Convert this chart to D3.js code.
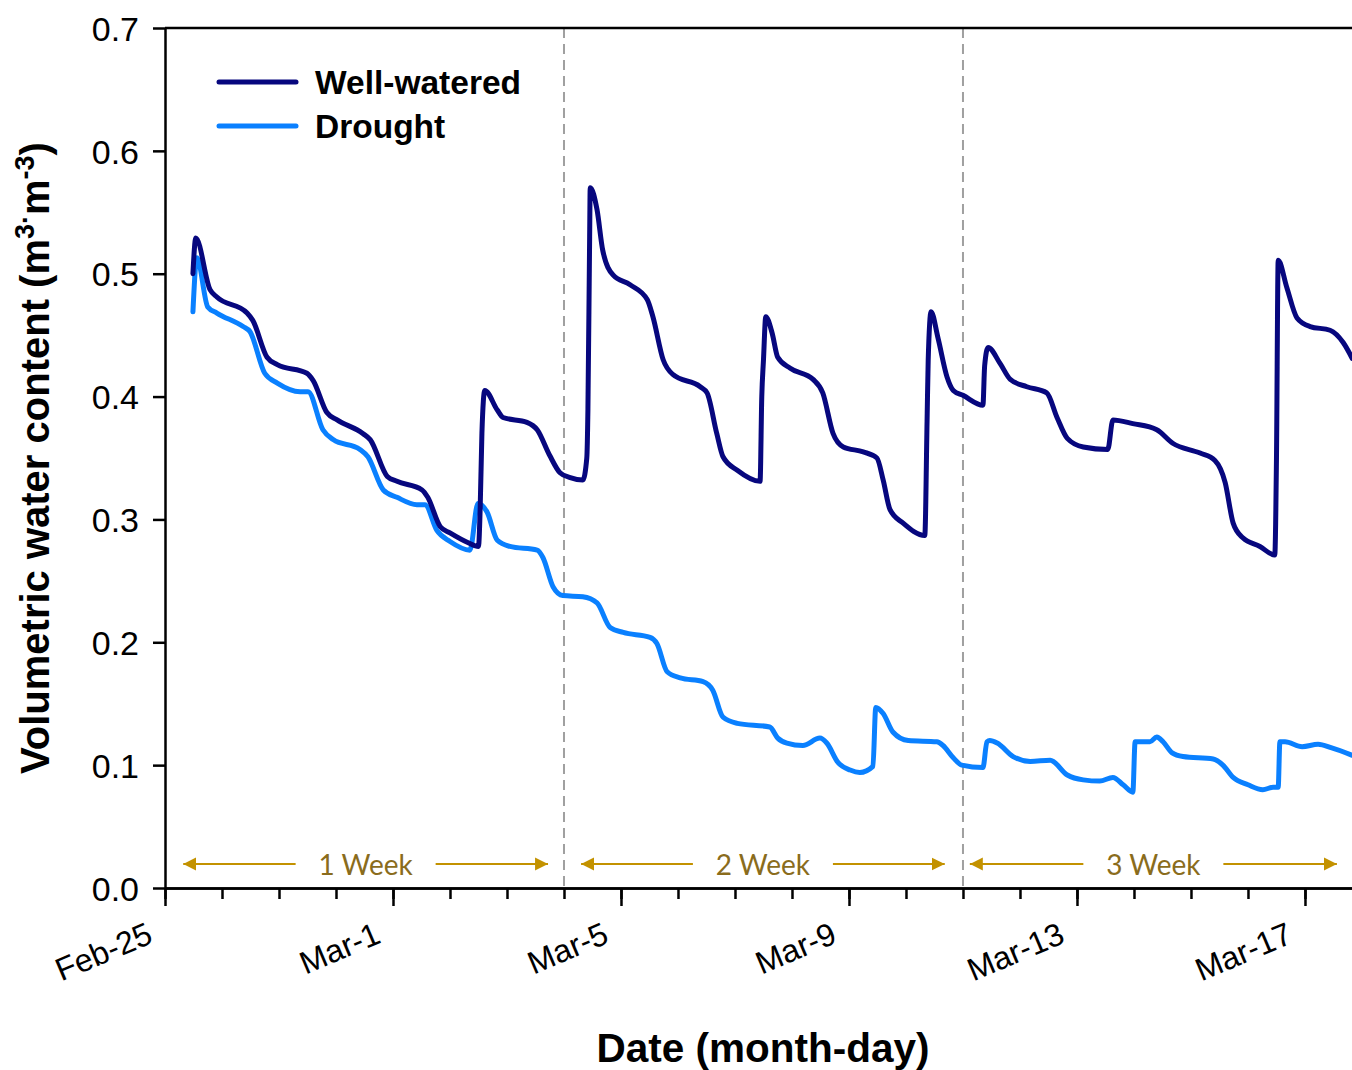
<!DOCTYPE html>
<html>
<head>
<meta charset="utf-8">
<script src="https://cdn.jsdelivr.net/npm/d3@7"></script>
<style>
html,body{margin:0;padding:0;background:#fff;}
svg{display:block;}
text{font-family:"Liberation Sans",Arial,sans-serif;}
</style>
</head>
<body>
<svg id="chart" width="1352" height="1070"></svg>
<script>
// ---- data (days since Feb-25, volumetric water content) ----
const majorTickDays = [0, 4, 8, 12, 16, 20];
const majorTickLabels = ["Feb-25", "Mar-1", "Mar-5", "Mar-9", "Mar-13", "Mar-17"];
const minorTickDays = d3.range(0, 21);
const yTicks = [0.0, 0.1, 0.2, 0.3, 0.4, 0.5, 0.6, 0.7];
const weekDividers = [7, 14];
const weekLabels = ["1 Week", "2 Week", "3 Week"];
const weekStarts = [0.32, 7.30, 14.12];
const weekEnds = [6.72, 13.68, 20.56];
const seriesNames = ["Well-watered", "Drought"];

const wellWateredDays = [0.49,0.54,0.79,0.91,1.44,1.54,1.79,1.97,2.49,2.60,2.84,3.02,3.47,3.60,3.90,4.07,4.51,4.61,4.83,5.00,5.32,5.50,5.53,5.56,5.61,5.83,5.93,6.35,6.53,6.75,6.93,7.11,7.33,7.40,7.42,7.45,7.46,7.58,7.68,7.86,8.16,8.46,8.56,8.74,8.91,9.39,9.51,9.68,9.79,10.04,10.44,10.47,10.50,10.54,10.65,10.75,10.97,11.37,11.54,11.72,11.90,12.25,12.49,12.60,12.72,12.95,13.33,13.37,13.39,13.44,13.56,13.72,13.83,14.00,14.35,14.38,14.44,14.65,14.83,15.12,15.47,15.65,15.83,16.11,16.54,16.63,16.98,17.40,17.68,18.16,18.42,18.60,18.74,18.91,19.21,19.47,19.50,19.53,19.68,19.86,20.09,20.44,20.67,20.83];
const wellWateredVWC = [0.500,0.529,0.487,0.481,0.468,0.462,0.432,0.426,0.419,0.413,0.387,0.381,0.370,0.365,0.335,0.331,0.324,0.318,0.294,0.289,0.281,0.278,0.310,0.370,0.405,0.389,0.383,0.379,0.373,0.352,0.338,0.334,0.332,0.350,0.390,0.530,0.570,0.552,0.519,0.499,0.491,0.479,0.465,0.430,0.418,0.408,0.403,0.370,0.351,0.340,0.331,0.400,0.430,0.465,0.452,0.432,0.423,0.414,0.403,0.370,0.359,0.355,0.350,0.332,0.308,0.297,0.287,0.380,0.430,0.469,0.448,0.416,0.405,0.401,0.393,0.425,0.440,0.427,0.414,0.408,0.403,0.383,0.366,0.359,0.357,0.381,0.378,0.373,0.362,0.354,0.348,0.330,0.297,0.285,0.278,0.271,0.350,0.511,0.489,0.464,0.457,0.454,0.444,0.431];

const droughtDays = [0.49,0.56,0.75,0.91,1.37,1.49,1.75,1.97,2.37,2.51,2.77,2.95,3.42,3.56,3.83,4.07,4.42,4.56,4.77,5.00,5.35,5.49,5.65,5.83,6.05,6.53,6.63,6.81,6.98,7.33,7.58,7.81,8.04,8.51,8.63,8.81,9.04,9.44,9.61,9.79,10.04,10.61,10.75,10.91,11.19,11.49,11.61,11.81,12.02,12.19,12.42,12.47,12.60,12.77,13.04,13.54,13.65,13.83,13.98,14.35,14.42,14.47,14.60,14.88,15.18,15.53,15.83,16.11,16.40,16.63,16.81,16.98,17.02,17.28,17.40,17.51,17.67,17.86,18.39,18.56,18.74,19.00,19.26,19.44,19.53,19.56,19.65,19.95,20.23,20.47,20.83];
const droughtVWC = [0.469,0.513,0.473,0.468,0.457,0.453,0.419,0.411,0.404,0.404,0.373,0.365,0.357,0.351,0.324,0.318,0.312,0.312,0.291,0.282,0.275,0.313,0.306,0.283,0.278,0.275,0.269,0.245,0.238,0.237,0.232,0.212,0.208,0.204,0.199,0.176,0.171,0.168,0.161,0.139,0.134,0.131,0.122,0.118,0.116,0.122,0.118,0.102,0.096,0.094,0.099,0.147,0.142,0.127,0.120,0.119,0.116,0.106,0.100,0.098,0.119,0.120,0.118,0.107,0.103,0.104,0.092,0.088,0.087,0.090,0.084,0.078,0.119,0.119,0.123,0.119,0.110,0.107,0.105,0.100,0.090,0.084,0.080,0.082,0.082,0.119,0.119,0.115,0.117,0.114,0.108];

(function () {
// ---- layout ----
const svg = d3.select("#chart");
const mLeft = 165, mRight = 1352, mTop = 28, mBottom = 888;
const colors = {"Well-watered": "#07077e", "Drought": "#0a80ff"};
const gold = "#c39200", goldText = "#8a6c1c";

const x = d3.scaleLinear().domain([0, 20.825]).range([mLeft, mRight]);
const y = d3.scaleLinear().domain([0, 0.7]).range([mBottom, mTop]);

// dashed week dividers
svg.append("g").selectAll("line").data(weekDividers).join("line")
  .attr("x1", d => x(d)).attr("x2", d => x(d))
  .attr("y1", y(0.7)).attr("y2", y(0))
  .attr("stroke", "#a0a0a0").attr("stroke-width", 2)
  .attr("stroke-dasharray", "10,6");

// week arrows
const defs = svg.append("defs");
defs.append("marker").attr("id", "ah").attr("viewBox", "0 0 10 10")
  .attr("refX", 10).attr("refY", 5).attr("markerWidth", 13).attr("markerHeight", 18)
  .attr("markerUnits", "userSpaceOnUse").attr("orient", "auto-start-reverse")
  .append("path").attr("d", "M0,0 L10,5 L0,10 Z").attr("fill", gold);

const weekG = svg.append("g");
const arrowY = 864;
weekLabels.forEach((lab, i) => {
  const x0 = x(weekStarts[i]), x1 = x(weekEnds[i]);
  const mid = (x0 + x1) / 2;
  const gap = 70;
  weekG.append("line").attr("x1", mid - gap).attr("x2", x0).attr("y1", arrowY).attr("y2", arrowY)
    .attr("stroke", gold).attr("stroke-width", 2).attr("marker-end", "url(#ah)");
  weekG.append("line").attr("x1", mid + gap).attr("x2", x1).attr("y1", arrowY).attr("y2", arrowY)
    .attr("stroke", gold).attr("stroke-width", 2).attr("marker-end", "url(#ah)");
  weekG.append("text").attr("x", mid).attr("y", arrowY + 11)
    .attr("text-anchor", "middle").attr("fill", goldText)
    .style("font-family", "Lato, 'Open Sans', sans-serif").style("font-size", "28px")
    .text(lab);
});

// series lines
const line = d3.line().x(d => x(d[0])).y(d => y(d[1])).curve(d3.curveMonotoneX);
const series = [
  {name: "Well-watered", pts: d3.zip(wellWateredDays, wellWateredVWC)},
  {name: "Drought", pts: d3.zip(droughtDays, droughtVWC)}
];
svg.append("g").selectAll("path").data(series.slice().reverse()).join("path")
  .attr("d", d => line(d.pts))
  .attr("fill", "none").attr("stroke", d => colors[d.name])
  .attr("stroke-width", 5).attr("stroke-linejoin", "round").attr("stroke-linecap", "round");

// axes
const yAxis = d3.axisLeft(y).tickValues(yTicks).tickFormat(d3.format(".1f")).tickSize(12).tickSizeOuter(0).tickPadding(14);
const yg = svg.append("g").attr("transform", `translate(${mLeft},0)`).call(yAxis);
yg.selectAll("text").style("font-size", "34px").attr("fill", "#000").attr("dy", "0.36em");

const xMinor = d3.axisBottom(x).tickValues(minorTickDays).tickFormat("").tickSize(11).tickSizeOuter(0);
svg.append("g").attr("transform", `translate(0,${mBottom})`).call(xMinor);
const xMajor = d3.axisBottom(x).tickValues(majorTickDays)
  .tickFormat((d, i) => majorTickLabels[i]).tickSize(18).tickSizeOuter(0);
const xg = svg.append("g").attr("transform", `translate(0,${mBottom})`).call(xMajor);
xg.selectAll("text").style("font-size", "32px").attr("fill", "#000")
  .attr("text-anchor", "end").attr("y", 0).attr("dy", 0)
  .attr("transform", "translate(-11,54) rotate(-23)");

svg.selectAll(".domain, .tick line").attr("stroke", "#000").attr("stroke-width", 2.5);
// top border
svg.append("line").attr("x1", mLeft).attr("x2", mRight).attr("y1", y(0.7)).attr("y2", y(0.7))
  .attr("stroke", "#000").attr("stroke-width", 2.5);

// axis titles
svg.append("text").attr("x", 763).attr("y", 1062)
  .attr("text-anchor", "middle").style("font-size", "40.5px").style("font-weight", "bold")
  .text("Date (month-day)");
const yt = svg.append("text").attr("transform", "translate(49,458) rotate(-90)")
  .attr("text-anchor", "middle").style("font-size", "40px").style("font-weight", "bold");
yt.append("tspan").text("Volumetric water content (m");
yt.append("tspan").attr("baseline-shift", "super").style("font-size", "27px").text("3");
yt.append("tspan").attr("baseline-shift", "super").style("font-size", "27px").text("·");
yt.append("tspan").text("m");
yt.append("tspan").attr("baseline-shift", "super").style("font-size", "27px").text("-3");
yt.append("tspan").text(")");

// legend
const lg = svg.append("g");
seriesNames.forEach((n, i) => {
  const ly = 82 + i * 44;
  lg.append("line").attr("x1", 219).attr("x2", 296).attr("y1", ly).attr("y2", ly)
    .attr("stroke", colors[n]).attr("stroke-width", 5).attr("stroke-linecap", "round");
  lg.append("text").attr("x", 315).attr("y", ly + 12)
    .style("font-size", "33.5px").style("font-weight", "bold").text(n);
});
})();
</script>
</body>
</html>
